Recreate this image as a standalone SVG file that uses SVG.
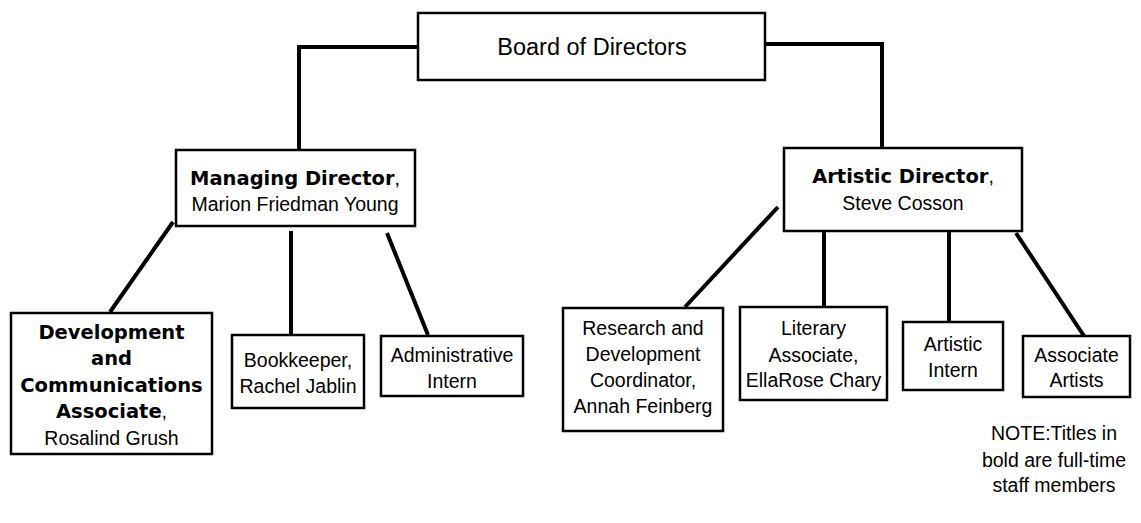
<svg xmlns="http://www.w3.org/2000/svg" width="1141" height="523" viewBox="0 0 1141 523">
<style>
.box{fill:#fff;stroke:#000;stroke-width:2.5}
.con line,.con polyline{stroke:#000;stroke-width:4;fill:none;stroke-linecap:butt}
text{font-family:"Liberation Sans",Arial,sans-serif;font-size:19.5px;fill:#000;text-anchor:middle}
.b{font-family:"DejaVu Sans","Liberation Sans",sans-serif;font-weight:bold}
</style>
<rect width="1141" height="523" fill="#fff"/>
<g class="con" id="connectors">
<polyline points="418,47 299,47 299,150"/>
<polyline points="765,44 882,44 882,148"/>
<line x1="173" y1="222" x2="110" y2="312"/>
<line x1="291" y1="231" x2="291" y2="335"/>
<line x1="387" y1="233" x2="428" y2="335"/>
<line x1="778" y1="207" x2="685" y2="307"/>
<line x1="824" y1="232" x2="824" y2="307"/>
<line x1="949" y1="232" x2="949" y2="322"/>
<line x1="1016" y1="233" x2="1084" y2="336"/>
</g>
<g id="board">
<rect class="box" x="418" y="13" width="347" height="67"/>
<text x="592" y="55" style="font-size:23.5px">Board of Directors</text>
</g>
<g id="managing">
<rect class="box" x="176" y="150" width="239" height="76"/>
<text x="295" y="185"><tspan class="b">Managing Director</tspan>,</text>
<text x="295" y="211">Marion Friedman Young</text>
</g>
<g id="artistic">
<rect class="box" x="784" y="148" width="238" height="83"/>
<text x="903" y="183"><tspan class="b">Artistic Director</tspan>,</text>
<text x="903" y="210">Steve Cosson</text>
</g>
<g id="development">
<rect class="box" x="11" y="313" width="201" height="141"/>
<text x="111.5" y="339" class="b">Development</text>
<text x="111.5" y="365" class="b">and</text>
<text x="111.5" y="392" class="b">Communications</text>
<text x="111.5" y="418"><tspan class="b">Associate</tspan>,</text>
<text x="111.5" y="445">Rosalind Grush</text>
</g>
<g id="bookkeeper">
<rect class="box" x="232" y="335" width="132" height="73"/>
<text x="298" y="367">Bookkeeper,</text>
<text x="298" y="393">Rachel Jablin</text>
</g>
<g id="admin">
<rect class="box" x="381" y="336" width="142" height="60"/>
<text x="452" y="362">Administrative</text>
<text x="452" y="388">Intern</text>
</g>
<g id="research">
<rect class="box" x="563" y="308" width="160" height="123"/>
<text x="643" y="335">Research and</text>
<text x="643" y="361">Development</text>
<text x="643" y="387">Coordinator,</text>
<text x="643" y="413">Annah Feinberg</text>
</g>
<g id="literary">
<rect class="box" x="740" y="307" width="147" height="93"/>
<text x="813.5" y="335">Literary</text>
<text x="813.5" y="362">Associate,</text>
<text x="813.5" y="387">EllaRose Chary</text>
</g>
<g id="artintern">
<rect class="box" x="903" y="322" width="100" height="68"/>
<text x="953" y="351">Artistic</text>
<text x="953" y="377">Intern</text>
</g>
<g id="assocartists">
<rect class="box" x="1023" y="336" width="107" height="61"/>
<text x="1076.5" y="362">Associate</text>
<text x="1076.5" y="387">Artists</text>
</g>
<g id="note" style="font-size:20px">
<text x="1054" y="440">NOTE:Titles in</text>
<text x="1054" y="467">bold are full-time</text>
<text x="1054" y="492">staff members</text>
</g>
</svg>
